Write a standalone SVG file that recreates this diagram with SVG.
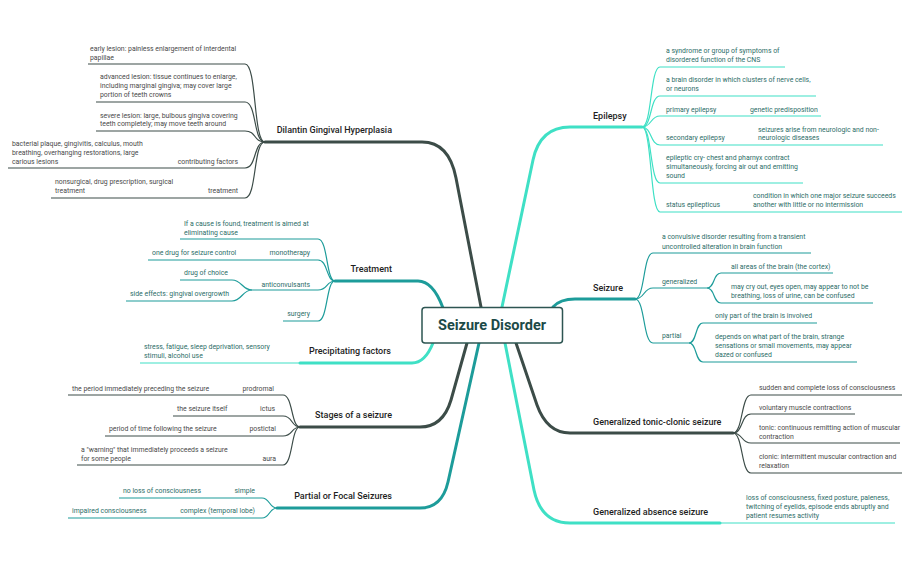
<svg xmlns="http://www.w3.org/2000/svg" width="913" height="565" viewBox="0 0 913 565">
<style>
text{font-family:Roboto,"Liberation Sans",sans-serif}
.lf{font-size:6.9px}
.dk{fill:#4a4a4a}
.tl{fill:#2d6e69}
.mn{font-size:9px;font-weight:500;fill:#1e1e1e}
.e{text-anchor:end}
.mb{fill:none;stroke-width:3;stroke-linecap:round}
.ln{fill:none;stroke-width:1.2}
.cd{stroke:#3c4c48}
.ct{stroke:#1d9c9a}
.cq{stroke:#3fe0c5}
</style>
<rect width="913" height="565" fill="#ffffff"/>
<g id="connectors">
<!-- main branches -->
<path class="mb cd" d="M481,307 L456,178 Q449,142 422,142 H265"/>
<path class="mb cq" d="M502,307 L533,160 Q540,127 570,127 H642"/>
<path class="mb ct" d="M443,308 Q433,281 418,281 H335"/>
<path class="mb ct" d="M553,307 Q560,299 575,299 H635"/>
<path class="mb cq" d="M433,343 Q425,363 412,363 H300"/>
<path class="mb cd" d="M467,343 L451,400 Q443,427 420,427 H300"/>
<path class="mb ct" d="M479,343 L448,482 Q442,508 420,508 H277"/>
<path class="mb cd" d="M516,343 L537,405 Q547,433 570,433 H733"/>
<path class="mb cq" d="M505,343 L534,490 Q541,523 570,523 H720"/>
<!-- Dilantin leaves -->
<g class="ln cd">
<path d="M88,64 H245 C257,64 253,142 265,142"/>
<path d="M96,102 H245 C257,102 253,142 265,142"/>
<path d="M96,131 H245 C257,131 253,142 265,142"/>
<path d="M8,168 H245 C257,168 253,142 265,142"/>
<path d="M51,198 H245 C257,198 253,142 265,142"/>
</g>
<!-- Treatment leaves -->
<g class="ln ct">
<path d="M180,239 H318 C328,239 326,281 335,281"/>
<path d="M148,260 H318 C328,260 326,281 335,281"/>
<path d="M252,290 H318 C328,290 326,281 335,281"/>
<path d="M283,321 H318 C328,321 326,281 335,281"/>
<path d="M180,280 H232 C242,280 242,290 252,290"/>
<path d="M126,301 H232 C242,301 242,290 252,290"/>
</g>
<path class="ln cq" d="M140,363 H305"/>
<!-- Stages leaves -->
<g class="ln cd">
<path d="M68,395 H283 C293,395 291,427 300,427"/>
<path d="M173,416 H283 C293,416 291,427 300,427"/>
<path d="M105,436 H283 C293,436 291,427 300,427"/>
<path d="M77,465 H283 C293,465 291,427 300,427"/>
</g>
<!-- Partial leaves -->
<g class="ln ct">
<path d="M119,498 H262 C270,498 269,508 277,508"/>
<path d="M68,518 H262 C270,518 269,508 277,508"/>
</g>
<!-- Epilepsy leaves -->
<g class="ln cq">
<path d="M642,127 C652,127 650,67 660,67 H785"/>
<path d="M642,127 C652,127 650,96 660,96 H816"/>
<path d="M642,127 C652,127 650,116 660,116 H821"/>
<path d="M642,127 C652,127 650,145 660,145 H883"/>
<path d="M642,127 C652,127 650,183 660,183 H803"/>
<path d="M642,127 C652,127 650,212 660,212 H902"/>
</g>
<!-- Seizure leaves -->
<g class="ln ct">
<path d="M635,299 C645,299 643,253 653,253 H811"/>
<path d="M635,299 C645,299 643,288 653,288 H707"/>
<path d="M635,299 C645,299 643,343 653,343 H689"/>
<path d="M707,288 C715,288 713,273 721,273 H833"/>
<path d="M707,288 C715,288 713,303 721,303 H873"/>
<path d="M689,343 C697,343 695,323 703,323 H817"/>
<path d="M689,343 C697,343 695,362 703,362 H857"/>
</g>
<!-- Tonic-clonic leaves -->
<g class="ln cd">
<path d="M733,433 C743,433 741,395 751,395 H902"/>
<path d="M733,433 C743,433 741,414 751,414 H855"/>
<path d="M733,433 C743,433 741,443 751,443 H900"/>
<path d="M733,433 C743,433 741,473 751,473 H902"/>
</g>
<path class="ln cq" d="M700,523 H895"/>
</g>

<g id="center">
<rect x="422" y="307.5" width="140.5" height="35.5" rx="3" fill="#ffffff" stroke="#2d5552" stroke-width="1.5"/>
<text x="492" y="330" text-anchor="middle" font-size="14.5" font-weight="700" fill="#1c4a47">Seizure Disorder</text>
</g>

<g id="dilantin">
<text class="mn e" x="392" y="133">Dilantin Gingival Hyperplasia</text>
<text class="lf dk" x="90"><tspan x="90" y="50.8">early lesion: painless enlargement of interdental</tspan><tspan x="90" y="59.8">papillae</tspan></text>
<text class="lf dk"><tspan x="100" y="79.2">advanced lesion: tissue continues to enlarge,</tspan><tspan x="100" y="88.3">including marginal gingiva; may cover large</tspan><tspan x="100" y="97">portion of teeth crowns</tspan></text>
<text class="lf dk"><tspan x="100" y="117.5">severe lesion: large, bulbous gingiva covering</tspan><tspan x="100" y="126.2">teeth completely; may move teeth around</tspan></text>
<text class="lf dk"><tspan x="12" y="146">bacterial plaque, gingivitis, calculus, mouth</tspan><tspan x="12" y="155">breathing, overhanging restorations, large</tspan><tspan x="12" y="163.7">carious lesions</tspan></text>
<text class="lf dk e" x="238" y="163.7">contributing factors</text>
<text class="lf dk"><tspan x="55" y="184.2">nonsurgical, drug prescription, surgical</tspan><tspan x="55" y="192.8">treatment</tspan></text>
<text class="lf dk e" x="238" y="192.8">treatment</text>
</g>

<g id="treatment">
<text class="mn e" x="392" y="272">Treatment</text>
<text class="lf tl"><tspan x="184" y="225.5">If a cause is found, treatment is aimed at</tspan><tspan x="184" y="234.5">eliminating cause</tspan></text>
<text class="lf tl" x="152" y="254.5">one drug for seizure control</text>
<text class="lf tl e" x="310" y="254.5">monotherapy</text>
<text class="lf tl e" x="310" y="286.5">anticonvulsants</text>
<text class="lf tl" x="184" y="275.3">drug of choice</text>
<text class="lf tl" x="130" y="296">side effects: gingival overgrowth</text>
<text class="lf tl e" x="310" y="316">surgery</text>
</g>

<g id="precipitating">
<text class="mn e" x="391" y="354">Precipitating factors</text>
<text class="lf tl"><tspan x="144" y="348.5">stress, fatigue, sleep deprivation, sensory</tspan><tspan x="144" y="357.5">stimuli, alcohol use</tspan></text>
</g>

<g id="stages">
<text class="mn e" x="392" y="418">Stages of a seizure</text>
<text class="lf dk" x="72" y="391">the period immediately preceding the seizure</text>
<text class="lf dk e" x="274" y="391">prodromal</text>
<text class="lf dk" x="177" y="410.8">the seizure itself</text>
<text class="lf dk e" x="275" y="410.8">ictus</text>
<text class="lf dk" x="109" y="431">period of time following the seizure</text>
<text class="lf dk e" x="276" y="431">postictal</text>
<text class="lf dk"><tspan x="81" y="451.5">a "warning" that immediately proceeds a seizure</tspan><tspan x="81" y="460.5">for some people</tspan></text>
<text class="lf dk e" x="276" y="460.5">aura</text>
</g>

<g id="partial-focal">
<text class="mn e" x="392" y="499">Partial or Focal Seizures</text>
<text class="lf tl" x="123" y="492.7">no loss of consciousness</text>
<text class="lf tl e" x="255" y="492.7">simple</text>
<text class="lf tl" x="72" y="513">impaired consciousness</text>
<text class="lf tl e" x="255" y="513">complex (temporal lobe)</text>
</g>

<g id="epilepsy">
<text class="mn" x="593" y="119">Epilepsy</text>
<text class="lf tl"><tspan x="666" y="53.2">a syndrome or group of symptoms of</tspan><tspan x="666" y="61.7">disordered function of the CNS</tspan></text>
<text class="lf tl"><tspan x="666" y="81.7">a brain disorder in which clusters of nerve cells,</tspan><tspan x="666" y="90.5">or neurons</tspan></text>
<text class="lf tl" x="666" y="111.5">primary epilepsy</text>
<text class="lf tl" x="750" y="111.5">genetic predisposition</text>
<text class="lf tl" x="666" y="140.2">secondary epilepsy</text>
<text class="lf tl"><tspan x="758" y="131.5">seizures arise from neurologic and non-</tspan><tspan x="758" y="140.2">neurologic diseases</tspan></text>
<text class="lf tl"><tspan x="666" y="160.2">epileptic cry- chest and pharnyx contract</tspan><tspan x="666" y="169.2">simultaneously, forcing air out and emitting</tspan><tspan x="666" y="177.5">sound</tspan></text>
<text class="lf tl" x="666" y="206.5">status epilepticus</text>
<text class="lf tl"><tspan x="753" y="198.2">condition in which one major seizure succeeds</tspan><tspan x="753" y="206.5">another with little or no intermission</tspan></text>
</g>

<g id="seizure">
<text class="mn" x="593" y="291">Seizure</text>
<text class="lf tl"><tspan x="662" y="239.2">a convulsive disorder resulting from a transient</tspan><tspan x="662" y="248.5">uncontrolled alteration in brain function</tspan></text>
<text class="lf tl" x="662" y="283.5">generalized</text>
<text class="lf tl" x="731" y="268.5">all areas of the brain (the cortex)</text>
<text class="lf tl"><tspan x="731" y="289.2">may cry out, eyes open, may appear to not be</tspan><tspan x="731" y="297.5">breathing, loss of urine, can be confused</tspan></text>
<text class="lf tl" x="662" y="337.5">partial</text>
<text class="lf tl" x="715" y="318.2">only part of the brain is involved</text>
<text class="lf tl"><tspan x="715" y="339.2">depends on what part of the brain, strange</tspan><tspan x="715" y="348.2">sensations or small movements, may appear</tspan><tspan x="715" y="356.7">dazed or confused</tspan></text>
</g>

<g id="tonic-clonic">
<text class="mn" x="593" y="425">Generalized tonic-clonic seizure</text>
<text class="lf dk" x="759" y="389.5">sudden and complete loss of consciousness</text>
<text class="lf dk" x="759" y="409.5">voluntary muscle contractions</text>
<text class="lf dk"><tspan x="759" y="429.5">tonic: continuous remitting action of muscular</tspan><tspan x="759" y="438.5">contraction</tspan></text>
<text class="lf dk"><tspan x="759" y="458.5">clonic: intermittent muscular contraction and</tspan><tspan x="759" y="467.5">relaxation</tspan></text>
</g>

<g id="absence">
<text class="mn" x="593" y="515">Generalized absence seizure</text>
<text class="lf tl"><tspan x="746" y="500">loss of consciousness, fixed posture, paleness,</tspan><tspan x="746" y="509">twitching of eyelids, episode ends abruptly and</tspan><tspan x="746" y="518.2">patient resumes activity</tspan></text>
</g>
</svg>
